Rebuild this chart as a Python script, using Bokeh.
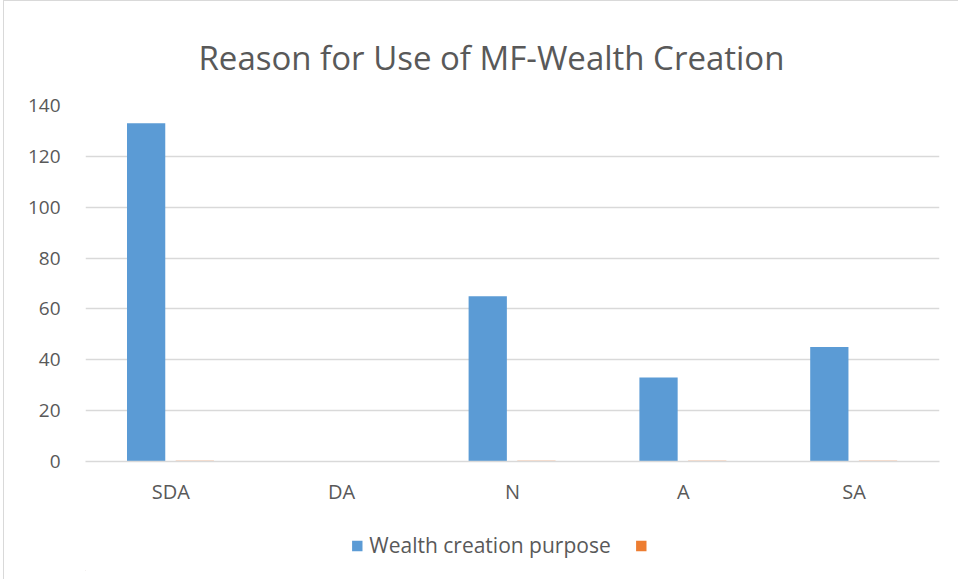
from bokeh.plotting import figure
from bokeh.models import (ColumnDataSource, Legend, LegendItem, Title, SingleIntervalTicker,
                          FactorRange, Range1d)
from bokeh.layouts import column
from bokeh.transform import dodge
from bokeh.embed import file_html
from bokeh.resources import INLINE

categories = ["SDA", "DA", "N", "A", "SA"]
wealth_creation = [133, 0, 65, 33, 45]
second_series = [0.3, 0, 0.3, 0.3, 0.3]
series_names = ["Wealth creation purpose", " "]
title_text = "Reason for Use of MF-Wealth Creation"

BLUE = "#5b9bd5"
ORANGE = "#ed7d31"
FONT = "Open Sans"
TXT = "#595959"
GRID = "#d9d9d9"

src = ColumnDataSource(dict(cat=categories, s1=wealth_creation, s2=second_series))

p = figure(x_range=FactorRange(*categories), y_range=(0, 140), width=954, height=519,
           output_backend="svg", toolbar_location=None,
           min_border_left=81, min_border_right=19, min_border_top=104, min_border_bottom=59)
p.title = Title(text=title_text, align="left", offset=113, text_font=FONT, text_font_size="33px",
                text_color=TXT, text_font_style="normal", standoff=52)

r1 = p.vbar(x=dodge("cat", -0.145, range=p.x_range), top="s1", width=0.224, source=src,
            fill_color=BLUE, line_color=None)
r2 = p.vbar(x=dodge("cat", 0.14, range=p.x_range), top="s2", width=0.224, source=src,
            fill_color=ORANGE, line_color=None)

p.outline_line_color = None
p.background_fill_color = "white"
p.border_fill_color = "white"
p.xgrid.grid_line_color = None
p.ygrid.grid_line_color = GRID
p.ygrid.grid_line_width = 1.5

p.yaxis.ticker = SingleIntervalTicker(interval=20)
p.yaxis.axis_line_color = None
p.yaxis.major_tick_line_color = None
p.yaxis.minor_tick_line_color = None
p.yaxis.major_label_text_font = FONT
p.yaxis.major_label_text_font_size = "19px"
p.yaxis.major_label_text_color = TXT
p.yaxis.major_label_standoff = 19

p.xaxis.axis_line_color = GRID
p.xaxis.axis_line_width = 1.5
p.xaxis.major_tick_line_color = None
p.xaxis.minor_tick_line_color = None
p.xaxis.major_label_text_font = FONT
p.xaxis.major_label_text_font_size = "20px"
p.xaxis.major_label_text_color = TXT
p.xaxis.major_label_standoff = 10

# legend strip below the chart
lg = figure(width=954, height=59, output_backend="svg", toolbar_location=None,
            x_range=Range1d(0, 1), y_range=Range1d(0, 1),
            x_axis_location=None, y_axis_location=None,
            min_border_left=16, min_border_right=0, min_border_top=0, min_border_bottom=9)
lg.outline_line_color = None
lg.background_fill_color = "white"
lg.border_fill_color = "white"
lg.xgrid.grid_line_color = None
lg.ygrid.grid_line_color = None
offscreen = ColumnDataSource(dict(x=[-5], top=[-5]))
l1 = lg.vbar(x="x", top="top", bottom=-6, width=0.1, source=offscreen, fill_color=BLUE, line_color=None)
l2 = lg.vbar(x="x", top="top", bottom=-6, width=0.1, source=offscreen, fill_color=ORANGE, line_color=None)
legend = Legend(items=[LegendItem(label=series_names[0], renderers=[l1]),
                       LegendItem(label=series_names[1], renderers=[l2])],
                orientation="horizontal", location="center",
                label_text_font=FONT, label_text_font_size="21px", label_text_color=TXT,
                label_height=20, glyph_width=13, glyph_height=13, spacing=24,
                border_line_color=None, background_fill_alpha=0, margin=0, padding=0,
                label_standoff=6)
lg.add_layout(legend, "center")

layout = column(p, lg, spacing=0)
layout.styles = {"border-top": "1px solid #d9d9d9", "border-left": "1px solid #d9d9d9",
                 "margin-left": "3px"}

open("out.html", "w").write(file_html(layout, INLINE))
